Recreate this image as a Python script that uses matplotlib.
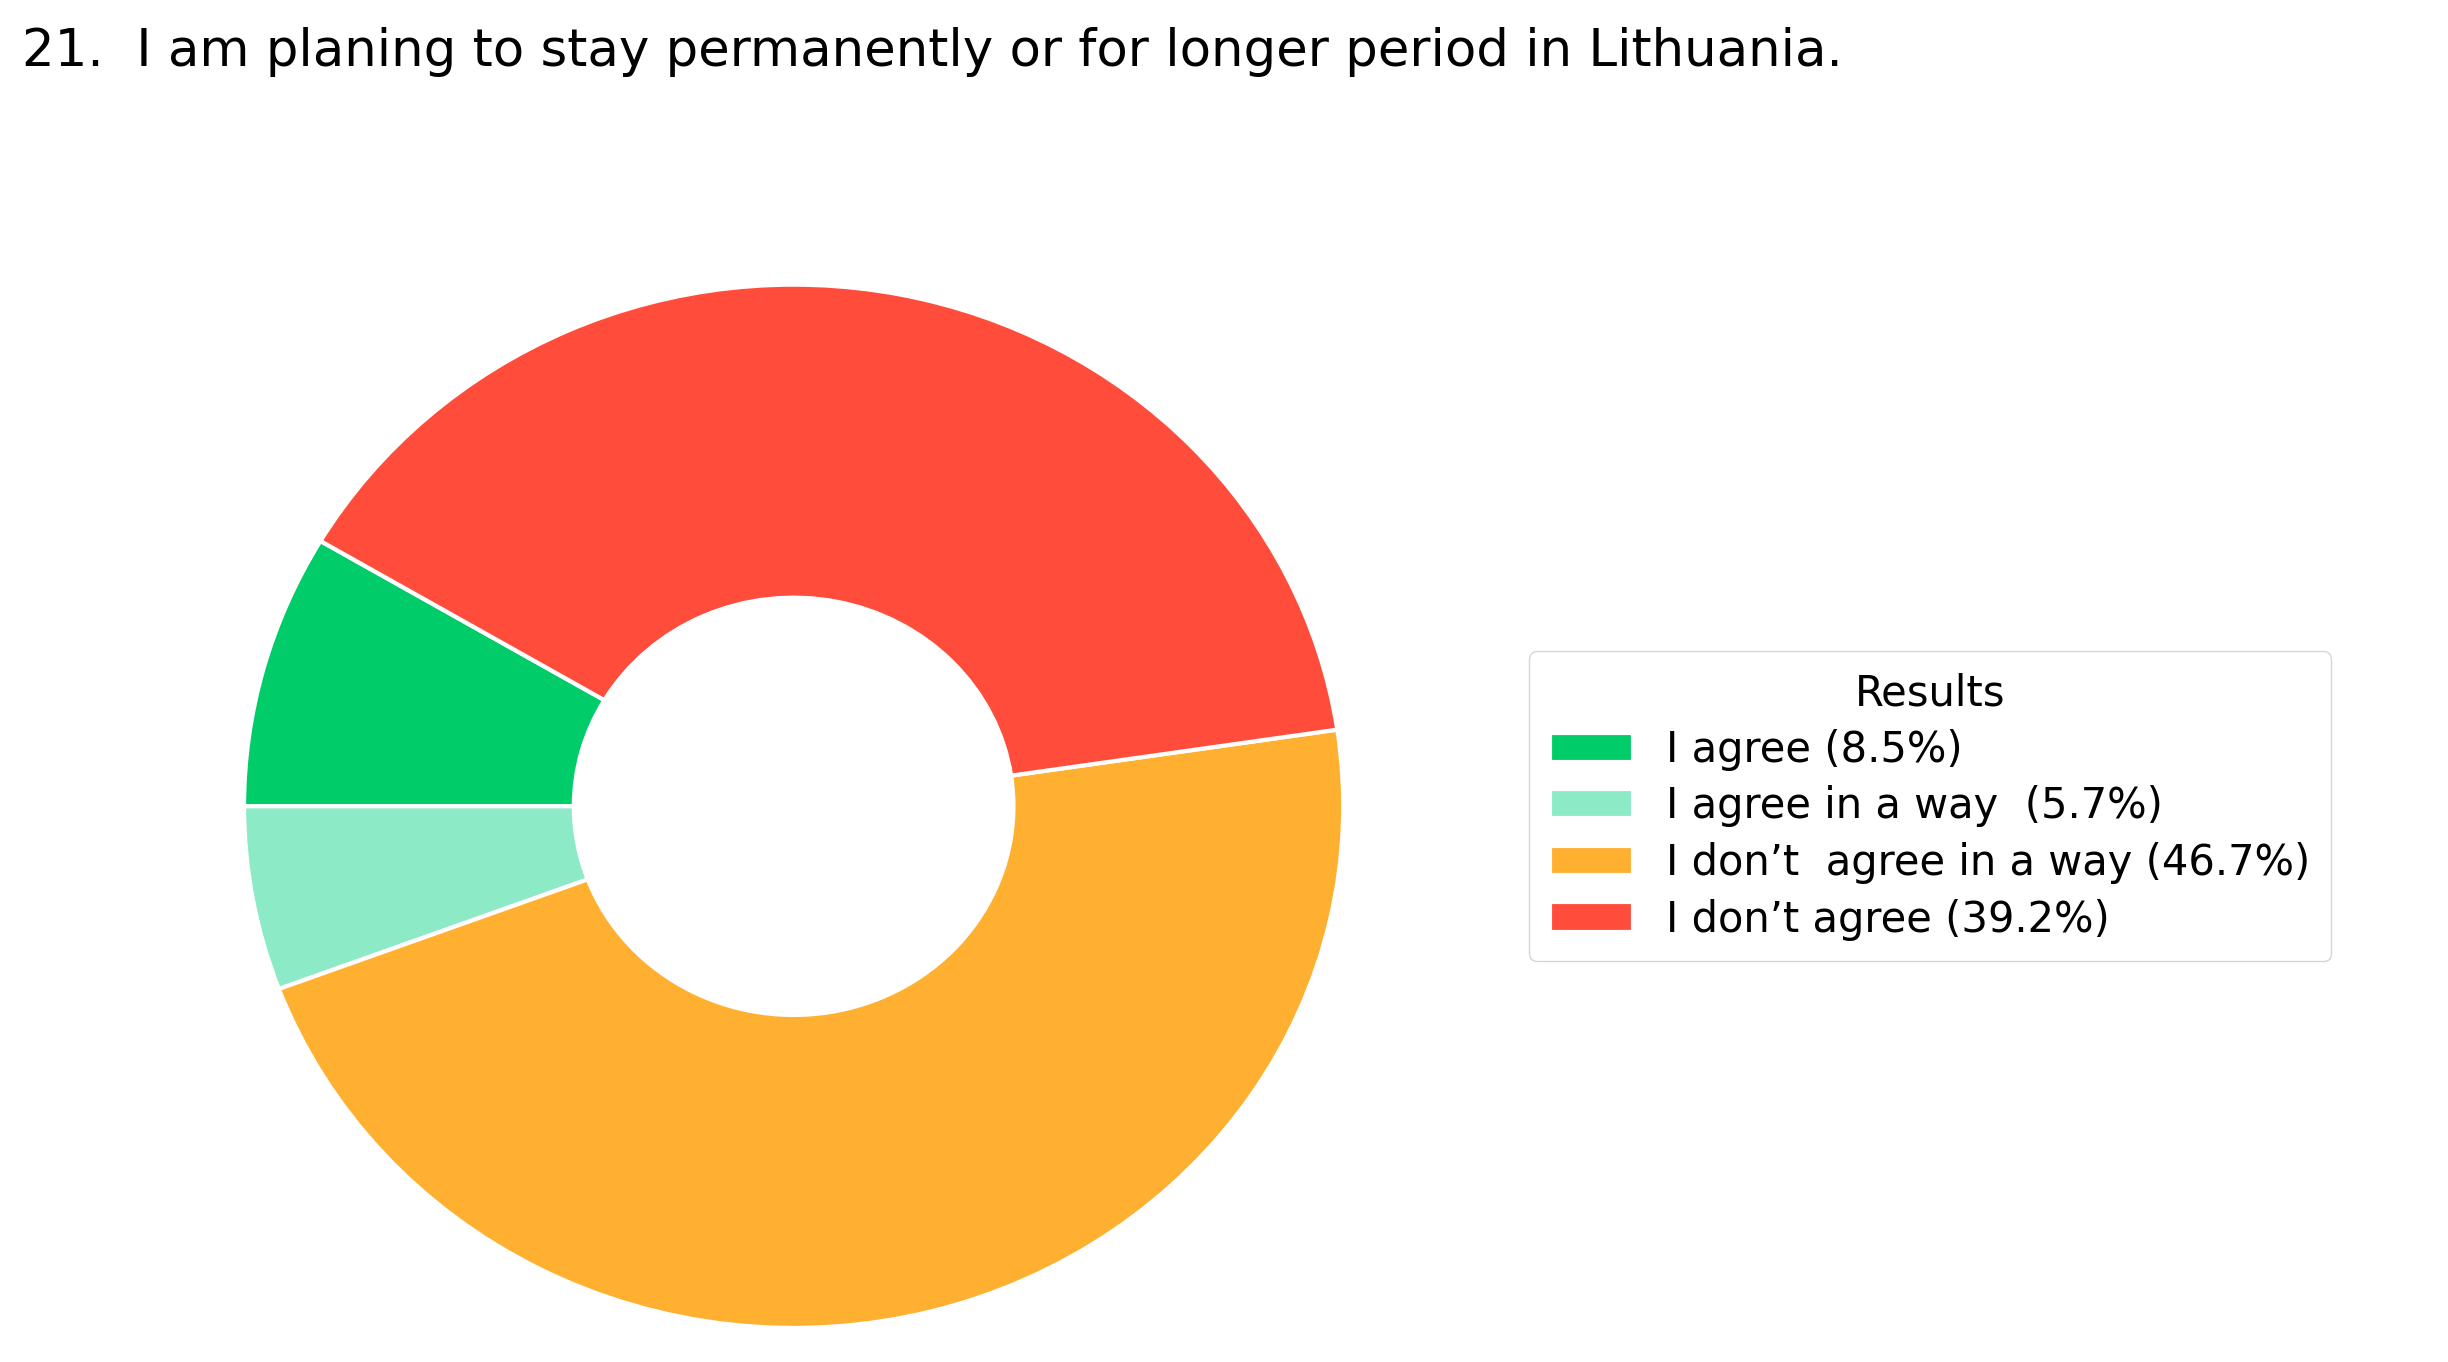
import matplotlib
matplotlib.use("Agg")
import matplotlib.pyplot as plt

labels = ["I agree (8.5%)", "I agree in a way  (5.7%)", "I don\u2019t  agree in a way (46.7%)", "I don\u2019t agree (39.2%)"]
values = [8.5, 5.7, 46.7, 39.2]
colors = ["#00CC6A", "#8CEBC6", "#FFB031", "#FF4C3B"]

fig = plt.figure(figsize=(24.48, 13.62), dpi=100)
ax = fig.add_axes([0.0997, 0.025, 0.449, 0.766])
wedges, _ = ax.pie(values, colors=colors, startangle=180 - 360 * values[0] / sum(values),
                   counterclock=True, radius=1.0,
                   wedgeprops=dict(width=0.6, edgecolor="white", linewidth=3))
ax.set_xlim(-1, 1)
ax.set_ylim(-1, 1)
ax.set_aspect("auto")
ax.axis("off")

fig.text(0.009, 0.962, "21.  I am planing to stay permanently or for longer period in Lithuania.",
         fontsize=37, va="center", ha="left")

leg = fig.legend(wedges, labels, title="Results", loc="upper left",
                 bbox_to_anchor=(0.616, 0.537), bbox_transform=fig.transFigure,
                 fontsize=30, title_fontsize=30, handlelength=2.0, handleheight=0.7,
                 labelspacing=0.35, borderpad=0.5)
fig.savefig("out.png", dpi=100)
